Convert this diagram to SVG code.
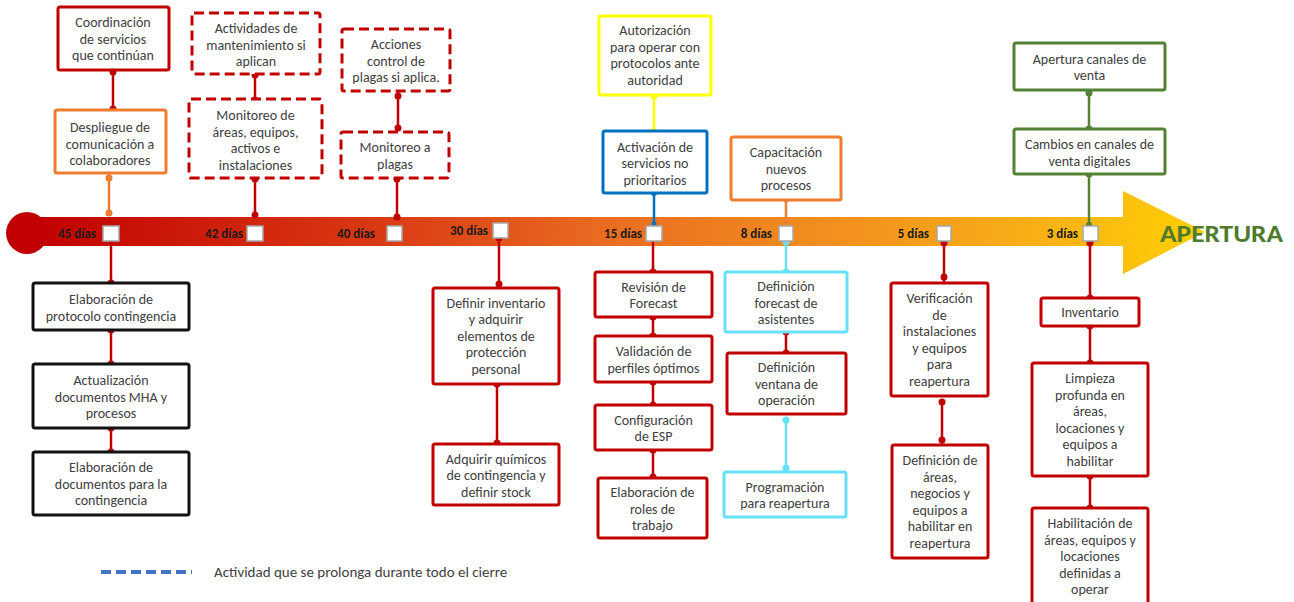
<svg xmlns="http://www.w3.org/2000/svg" width="1294" height="602" viewBox="0 0 1294 602">
<defs>
<linearGradient id="tl" gradientUnits="userSpaceOnUse" x1="27" y1="200" x2="1205" y2="265">
<stop offset="0" stop-color="#c00000"/>
<stop offset="0.3" stop-color="#d93a14"/>
<stop offset="0.5" stop-color="#ea6e22"/>
<stop offset="0.7" stop-color="#f3921e"/>
<stop offset="0.88" stop-color="#f9b515"/>
<stop offset="1" stop-color="#ffd000"/>
</linearGradient>
<style>
.box{fill:#fff;stroke-width:3}
.r{stroke:#c00000}.o{stroke:#ed7d31}.y{stroke:#ffff00}.b{stroke:#0070c0}.c{stroke:#66e0f5}.g{stroke:#548235}.k{stroke:#111}
.d{stroke-dasharray:10 5}
.t{font-family:Carlito,Lato,'Liberation Sans',sans-serif;font-size:14px;fill:#404040;text-anchor:middle}
.lbl{font-family:Carlito,Lato,'Liberation Sans',sans-serif;font-weight:bold;font-size:13px;fill:#1a1a1a;text-anchor:end}
.sq{fill:#fff;stroke:#a6a6a6;stroke-width:1.5}
.cn{stroke-width:2.5;fill:none}
.fr{fill:#c00000}.fo{fill:#ed7d31}.fy{fill:#ffff00}.fb{fill:#0070c0}.fc{fill:#66e0f5}.fg{fill:#548235}
</style>
</defs>

<g id="timeline">
<path d="M27 217 L1123 217 L1123 191 L1205 232 L1123 274 L1123 246 L27 246 Z" fill="url(#tl)"/>
<circle cx="27" cy="233" r="21" fill="#c00000"/>
<text x="1160" y="242" font-family="Carlito,Lato,'Liberation Sans',sans-serif" font-weight="bold" font-size="25" fill="#4f7a2c" textLength="123" lengthAdjust="spacingAndGlyphs">APERTURA</text>
</g>

<g id="connectors">
<g class="cn r">
<line x1="113" y1="72" x2="113" y2="109"/>
<line x1="255" y1="75" x2="255" y2="100"/>
<line x1="255" y1="178" x2="255" y2="216"/>
<line x1="398" y1="92" x2="398" y2="130"/>
<line x1="397" y1="178" x2="397" y2="218"/>
<line x1="111" y1="241" x2="111" y2="283"/>
<line x1="111" y1="330" x2="111" y2="364"/>
<line x1="111" y1="428" x2="111" y2="452"/>
<line x1="499" y1="238" x2="499" y2="288"/>
<line x1="497" y1="384" x2="497" y2="444"/>
<line x1="653" y1="241" x2="653" y2="272"/>
<line x1="653" y1="317" x2="653" y2="336"/>
<line x1="653" y1="382" x2="653" y2="405"/>
<line x1="653" y1="450" x2="653" y2="478"/>
<line x1="786" y1="332" x2="786" y2="353"/>
<line x1="944" y1="241" x2="944" y2="283"/>
<line x1="942" y1="402" x2="942" y2="445"/>
<line x1="1090" y1="241" x2="1090" y2="298"/>
<line x1="1090" y1="326" x2="1090" y2="363"/>
<line x1="1090" y1="476" x2="1090" y2="508"/>
</g>
<g class="fr">
<circle cx="113" cy="72" r="3.5"/><circle cx="113" cy="109" r="3.5"/>
<circle cx="255" cy="75" r="3.5"/><circle cx="255" cy="100" r="3.5"/>
<circle cx="255" cy="179" r="3.5"/><circle cx="255" cy="215" r="3.5"/>
<circle cx="398" cy="96" r="3.5"/><circle cx="398" cy="128" r="3.5"/>
<circle cx="397" cy="179" r="3.5"/><circle cx="397" cy="217" r="3.5"/>
<circle cx="111" cy="283" r="3.5"/><circle cx="111" cy="330" r="3.5"/><circle cx="111" cy="364" r="3.5"/>
<circle cx="111" cy="428" r="3.5"/><circle cx="111" cy="452" r="3.5"/>
<circle cx="499" cy="238" r="3.5"/><circle cx="499" cy="284" r="3.5"/>
<circle cx="497" cy="384" r="3.5"/><circle cx="497" cy="443" r="3.5"/>
<circle cx="653" cy="272" r="3.5"/><circle cx="653" cy="317" r="3.5"/><circle cx="653" cy="336" r="3.5"/>
<circle cx="653" cy="382" r="3.5"/><circle cx="653" cy="405" r="3.5"/><circle cx="653" cy="450" r="3.5"/><circle cx="653" cy="477" r="3.5"/>
<circle cx="786" cy="332" r="3.5"/><circle cx="786" cy="353" r="3.5"/>
<circle cx="944" cy="243" r="3.5"/><circle cx="944" cy="277" r="3.5"/>
<circle cx="942" cy="402" r="3.5"/><circle cx="942" cy="440" r="3.5"/>
<circle cx="1090" cy="243" r="3.5"/><circle cx="1090" cy="298" r="3.5"/><circle cx="1090" cy="326" r="3.5"/>
<circle cx="1090" cy="363" r="3.5"/><circle cx="1090" cy="476" r="3.5"/><circle cx="1090" cy="508" r="3.5"/>
</g>
<g class="cn o">
<line x1="109" y1="173" x2="109" y2="213"/>
<line x1="786" y1="200" x2="786" y2="226"/>
</g>
<g class="fo">
<circle cx="109" cy="178" r="3.5"/><circle cx="109" cy="213" r="3.5"/>
<circle cx="786" cy="200" r="2.5"/>
</g>
<line class="cn y" x1="654" y1="95" x2="654" y2="133"/>
<g class="fy"><circle cx="654" cy="96" r="3.5"/><circle cx="654" cy="132" r="3.5"/></g>
<line class="cn b" x1="654" y1="193" x2="654" y2="226"/>
<g class="fb"><circle cx="654" cy="193" r="3"/><circle cx="654" cy="224" r="2.5"/></g>
<g class="cn c">
<line x1="786" y1="241" x2="786" y2="272"/>
<line x1="786" y1="420" x2="786" y2="472"/>
</g>
<g class="fc">
<circle cx="786" cy="242" r="3.5"/><circle cx="786" cy="272" r="3.5"/>
<circle cx="786" cy="420" r="3.5"/><circle cx="786" cy="468" r="3.5"/>
</g>
<g class="cn g">
<line x1="1089" y1="90" x2="1089" y2="129"/>
<line x1="1089" y1="174" x2="1089" y2="227"/>
</g>
<g class="fg">
<circle cx="1089" cy="93" r="3.5"/><circle cx="1089" cy="129" r="3.5"/>
<circle cx="1089" cy="174" r="3.5"/><circle cx="1089" cy="225" r="3"/>
</g>
</g>

<g id="markers">
<rect class="sq" x="103" y="226" width="16" height="15"/><text class="lbl" x="96" y="238">45 días</text>
<rect class="sq" x="247" y="226" width="16" height="15"/><text class="lbl" x="243" y="238">42 días</text>
<rect class="sq" x="387" y="226" width="15" height="15"/><text class="lbl" x="375" y="238">40 días</text>
<rect class="sq" x="493" y="223" width="15" height="15"/><text class="lbl" x="488" y="235">30 días</text>
<rect class="sq" x="646" y="226" width="16" height="15"/><text class="lbl" x="642" y="238">15 días</text>
<rect class="sq" x="779" y="226" width="14" height="15"/><text class="lbl" x="772" y="238">8 días</text>
<rect class="sq" x="937" y="226" width="14" height="15"/><text class="lbl" x="929" y="238">5 días</text>
<rect class="sq" x="1083" y="226" width="15" height="15"/><text class="lbl" x="1078" y="238">3 días</text>
</g>

<g id="n_coord"><rect class="box r" x="58" y="7" width="111" height="63" rx="2"/>
<text class="t"><tspan x="113" y="26.7">Coordinación</tspan><tspan x="113" y="43.5">de servicios</tspan><tspan x="113" y="60.3">que continúan</tspan></text></g>

<g id="n_despliegue"><rect class="box o" x="55" y="110" width="111" height="63" rx="2"/>
<text class="t"><tspan x="110" y="132">Despliegue de</tspan><tspan x="110" y="148.5">comunicación a</tspan><tspan x="110" y="165">colaboradores</tspan></text></g>

<g id="n_actmant"><rect class="box r d" x="192" y="13" width="128" height="61" rx="2"/>
<text class="t"><tspan x="256" y="33">Actividades de</tspan><tspan x="256" y="49.5">mantenimiento si</tspan><tspan x="256" y="66">aplican</tspan></text></g>

<g id="n_monareas"><rect class="box r d" x="189" y="99" width="133" height="79" rx="2"/>
<text class="t"><tspan x="255.5" y="120">Monitoreo de</tspan><tspan x="255.5" y="136.5">áreas, equipos,</tspan><tspan x="255.5" y="153">activos e</tspan><tspan x="255.5" y="169.5">instalaciones</tspan></text></g>

<g id="n_acciones"><rect class="box r d" x="342" y="29" width="108" height="62" rx="2"/>
<text class="t"><tspan x="396" y="49">Acciones</tspan><tspan x="396" y="65.5">control de</tspan><tspan x="396" y="82">plagas si aplica.</tspan></text></g>

<g id="n_monplagas"><rect class="box r d" x="341" y="132" width="108" height="46" rx="2"/>
<text class="t"><tspan x="395" y="152">Monitoreo a</tspan><tspan x="395" y="168.5">plagas</tspan></text></g>

<g id="n_autoriz"><rect class="box y" x="599" y="16" width="112" height="79" rx="2"/>
<text class="t"><tspan x="655" y="35">Autorización</tspan><tspan x="655" y="51.5">para operar con</tspan><tspan x="655" y="68">protocolos ante</tspan><tspan x="655" y="84.5">autoridad</tspan></text></g>

<g id="n_activ"><rect class="box b" x="603" y="131" width="104" height="62" rx="2"/>
<text class="t"><tspan x="655" y="151.5">Activación de</tspan><tspan x="655" y="168">servicios no</tspan><tspan x="655" y="184.5">prioritarios</tspan></text></g>

<g id="n_capac"><rect class="box o" x="731" y="137" width="110" height="63" rx="2"/>
<text class="t"><tspan x="786" y="157">Capacitación</tspan><tspan x="786" y="173.5">nuevos</tspan><tspan x="786" y="190">procesos</tspan></text></g>

<g id="n_apertcan"><rect class="box g" x="1014" y="43" width="151" height="47" rx="2"/>
<text class="t"><tspan x="1089.5" y="63.5">Apertura canales de</tspan><tspan x="1089.5" y="80">venta</tspan></text></g>

<g id="n_cambios"><rect class="box g" x="1014" y="129" width="151" height="45" rx="2"/>
<text class="t"><tspan x="1089.5" y="149">Cambios en canales de</tspan><tspan x="1089.5" y="165.5">venta digitales</tspan></text></g>

<g id="n_elabprot"><rect class="box k" x="33" y="283" width="156" height="47" rx="2"/>
<text class="t"><tspan x="111" y="304">Elaboración de</tspan><tspan x="111" y="320.5">protocolo contingencia</tspan></text></g>

<g id="n_actualiz"><rect class="box k" x="33" y="364" width="156" height="64" rx="2"/>
<text class="t"><tspan x="111" y="385">Actualización</tspan><tspan x="111" y="401.5">documentos MHA y</tspan><tspan x="111" y="418">procesos</tspan></text></g>

<g id="n_elabdocs"><rect class="box k" x="33" y="452" width="156" height="63" rx="2"/>
<text class="t"><tspan x="111" y="472">Elaboración de</tspan><tspan x="111" y="488.5">documentos para la</tspan><tspan x="111" y="505">contingencia</tspan></text></g>

<g id="n_definv"><rect class="box r" x="433" y="288" width="126" height="96" rx="2"/>
<text class="t"><tspan x="496" y="307.5">Definir inventario</tspan><tspan x="496" y="324">y adquirir</tspan><tspan x="496" y="340.5">elementos de</tspan><tspan x="496" y="357">protección</tspan><tspan x="496" y="373.5">personal</tspan></text></g>

<g id="n_quimicos"><rect class="box r" x="433" y="444" width="126" height="61" rx="2"/>
<text class="t"><tspan x="496" y="463.5">Adquirir químicos</tspan><tspan x="496" y="480">de contingencia y</tspan><tspan x="496" y="496.5">definir stock</tspan></text></g>

<g id="n_revision"><rect class="box r" x="595" y="272" width="117" height="45" rx="2"/>
<text class="t"><tspan x="653.5" y="291.5">Revisión de</tspan><tspan x="653.5" y="308">Forecast</tspan></text></g>

<g id="n_validacion"><rect class="box r" x="595" y="336" width="117" height="46" rx="2"/>
<text class="t"><tspan x="653.5" y="356">Validación de</tspan><tspan x="653.5" y="372.5">perfiles óptimos</tspan></text></g>

<g id="n_config"><rect class="box r" x="595" y="405" width="117" height="45" rx="2"/>
<text class="t"><tspan x="653.5" y="424.5">Configuración</tspan><tspan x="653.5" y="441">de ESP</tspan></text></g>

<g id="n_roles"><rect class="box r" x="598" y="478" width="109" height="60" rx="2"/>
<text class="t"><tspan x="652.5" y="497">Elaboración de</tspan><tspan x="652.5" y="513.5">roles de</tspan><tspan x="652.5" y="530">trabajo</tspan></text></g>

<g id="n_defforecast"><rect class="box c" x="725" y="272" width="122" height="60" rx="2"/>
<text class="t"><tspan x="786" y="291">Definición</tspan><tspan x="786" y="307.5">forecast de</tspan><tspan x="786" y="324">asistentes</tspan></text></g>

<g id="n_ventana"><rect class="box r" x="727" y="353" width="119" height="61" rx="2"/>
<text class="t"><tspan x="786.5" y="372">Definición</tspan><tspan x="786.5" y="388.5">ventana de</tspan><tspan x="786.5" y="405">operación</tspan></text></g>

<g id="n_program"><rect class="box c" x="724" y="472" width="122" height="45" rx="2"/>
<text class="t"><tspan x="785" y="491.5">Programación</tspan><tspan x="785" y="508">para reapertura</tspan></text></g>

<g id="n_verif"><rect class="box r" x="891" y="283" width="97" height="113" rx="2"/>
<text class="t"><tspan x="939.5" y="303">Verificación</tspan><tspan x="939.5" y="319.5">de</tspan><tspan x="939.5" y="336">instalaciones</tspan><tspan x="939.5" y="352.5">y equipos</tspan><tspan x="939.5" y="369">para</tspan><tspan x="939.5" y="385.5">reapertura</tspan></text></g>

<g id="n_defareas"><rect class="box r" x="892" y="445" width="96" height="113" rx="2"/>
<text class="t"><tspan x="940" y="465">Definición de</tspan><tspan x="940" y="481.5">áreas,</tspan><tspan x="940" y="498">negocios y</tspan><tspan x="940" y="514.5">equipos a</tspan><tspan x="940" y="531">habilitar en</tspan><tspan x="940" y="547.5">reapertura</tspan></text></g>

<g id="n_inventario"><rect class="box r" x="1041" y="298" width="98" height="28" rx="2"/>
<text class="t" x="1090" y="317">Inventario</text></g>

<g id="n_limpieza"><rect class="box r" x="1032" y="363" width="116" height="113" rx="2"/>
<text class="t"><tspan x="1090" y="383">Limpieza</tspan><tspan x="1090" y="399.5">profunda en</tspan><tspan x="1090" y="416">áreas,</tspan><tspan x="1090" y="432.5">locaciones y</tspan><tspan x="1090" y="449">equipos a</tspan><tspan x="1090" y="465.5">habilitar</tspan></text></g>

<g id="n_habilit"><rect class="box r" x="1032" y="508" width="116" height="102" rx="2"/>
<text class="t"><tspan x="1090" y="528">Habilitación de</tspan><tspan x="1090" y="544.5">áreas, equipos y</tspan><tspan x="1090" y="561">locaciones</tspan><tspan x="1090" y="577.5">definidas a</tspan><tspan x="1090" y="594">operar</tspan></text></g>

<g id="legend">
<line x1="101" y1="572" x2="192" y2="572" stroke="#4472c4" stroke-width="4" stroke-dasharray="10 5"/>
<text x="214" y="577" font-family="Carlito,Lato,'Liberation Sans',sans-serif" font-size="15" fill="#404040">Actividad que se prolonga durante todo el cierre</text>
</g>
</svg>
